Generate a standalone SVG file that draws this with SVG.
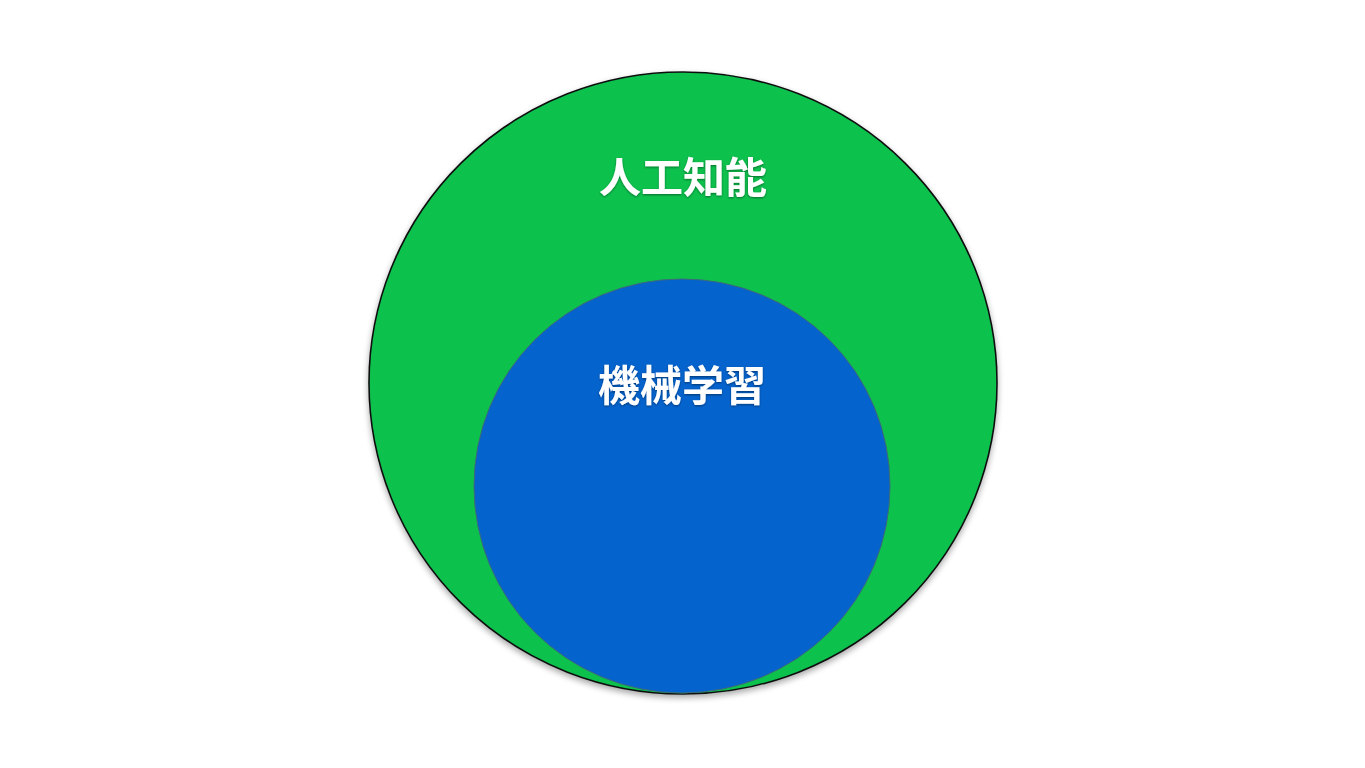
<svg xmlns="http://www.w3.org/2000/svg" width="1365" height="768" viewBox="0 0 1365 768">
<defs>
<filter id="shadow" x="-10%" y="-10%" width="120%" height="125%">
<feGaussianBlur in="SourceAlpha" stdDeviation="3"/>
<feOffset dx="0" dy="3" result="b"/>
<feComponentTransfer><feFuncA type="linear" slope="0.35"/></feComponentTransfer>
<feMerge><feMergeNode/><feMergeNode in="SourceGraphic"/></feMerge>
</filter>
<filter id="tshadow" x="-10%" y="-20%" width="120%" height="140%">
<feGaussianBlur in="SourceAlpha" stdDeviation="1.2"/>
<feOffset dx="0" dy="1"/>
<feComponentTransfer><feFuncA type="linear" slope="0.45"/></feComponentTransfer>
<feMerge><feMergeNode/><feMergeNode in="SourceGraphic"/></feMerge>
</filter>
</defs>
<style>
.lbl{font-family:"Noto Sans CJK JP","Noto Sans CJK SC",sans-serif;font-weight:bold;font-size:42px;fill:#ffffff;text-anchor:middle;filter:url(#tshadow)}
.outer{fill:#0dc14d;stroke:#111111;stroke-width:1.6}
.inner{fill:#0563cd;stroke:#3d6a78;stroke-width:1}
</style>
<rect x="0" y="0" width="1365" height="768" fill="#ffffff"/>
<g id="ai">
<ellipse class="outer" cx="683" cy="383" rx="314" ry="311" filter="url(#shadow)"/>
<text class="lbl" x="683" y="193">人工知能</text>
</g>
<g id="ml">
<ellipse class="inner" cx="682" cy="486" rx="208" ry="207"/>
<text class="lbl" x="682" y="401">機械学習</text>
</g>
<g id="connectors"></g>
</svg>
